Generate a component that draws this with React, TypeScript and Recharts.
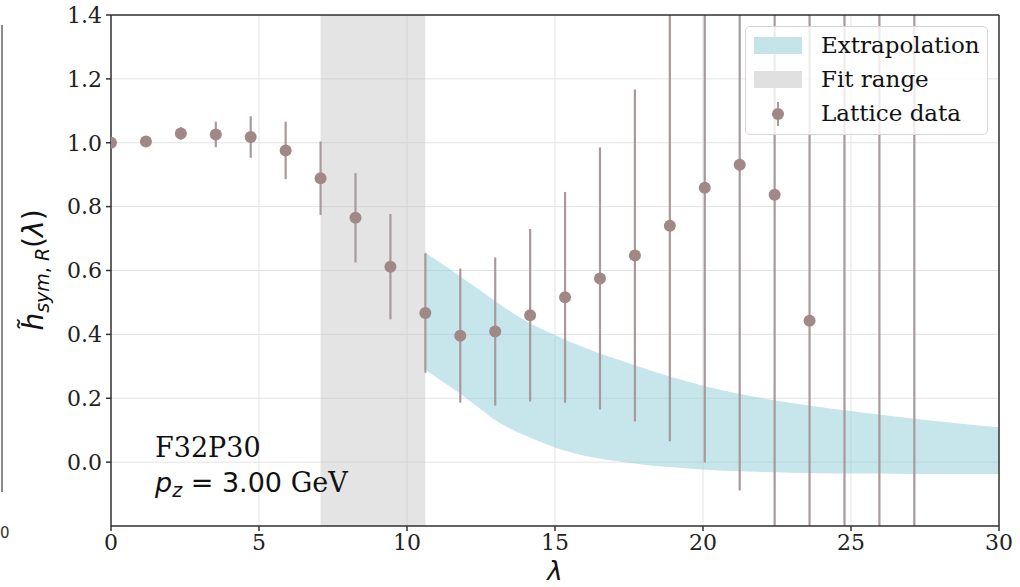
import React from "react";
import {
  ComposedChart,
  Area,
  Scatter,
  ErrorBar,
  XAxis,
  YAxis,
  CartesianGrid,
  ReferenceArea,
  ReferenceLine,
} from "recharts";

// Lattice data
const lambdaVals = [0, 1.18, 2.36, 3.54, 4.72, 5.9, 7.08, 8.26, 9.44, 10.62, 11.8, 12.98, 14.16, 15.34, 16.52, 17.7, 18.88, 20.06, 21.24, 22.42, 23.6, 24.78, 25.96, 27.14];
const latticeMean = [1.0, 1.004, 1.029, 1.026, 1.018, 0.976, 0.889, 0.765, 0.612, 0.467, 0.396, 0.409, 0.46, 0.516, 0.575, 0.647, 0.74, 0.859, 0.931, 0.837, 0.443, 1.6, -0.45, 1.7];
const latticeErr = [0.002, 0.008, 0.02, 0.04, 0.065, 0.09, 0.115, 0.14, 0.165, 0.187, 0.21, 0.232, 0.27, 0.33, 0.41, 0.52, 0.675, 0.86, 1.02, 1.3, 1.7, 2.2, 2.0, 2.5];

// Extrapolation band
const bandX = [10.62, 11, 11.8, 12.5, 13, 14, 15, 16, 17, 18, 19, 20, 21, 22, 23, 24, 25, 26, 27, 28, 29, 30];
const bandUpper = [0.656, 0.632, 0.581, 0.536, 0.503, 0.443, 0.398, 0.358, 0.325, 0.294, 0.265, 0.239, 0.218, 0.2, 0.185, 0.172, 0.16, 0.148, 0.137, 0.127, 0.118, 0.109];
const bandLower = [0.29, 0.265, 0.214, 0.165, 0.13, 0.083, 0.046, 0.02, 0.004, -0.008, -0.016, -0.023, -0.028, -0.031, -0.033, -0.035, -0.036, -0.036, -0.037, -0.037, -0.037, -0.037];

// Fit range
const fitRange = [7.08, 10.62];

const xTicks = [0, 5, 10, 15, 20, 25, 30];
const yTicks = [0, 0.2, 0.4, 0.6, 0.8, 1.0, 1.2, 1.4];

const latticeData = lambdaVals.map((x, i) => ({ x, y: latticeMean[i], err: latticeErr[i] }));
const bandData = bandX.map((x, i) => ({ x, lo: bandLower[i], hi: bandUpper[i] }));

const SERIF = "'DejaVu Serif', serif";
const SANS = "'DejaVu Sans', sans-serif";
const DOT = "#a08886";
const BAR = "#a8999a";

const W = 1020;
const H = 587;
const MARGIN = { top: 15, right: 21, bottom: 31, left: 51 };
const Y_AXIS_W = 60;
const X_AXIS_H = 30;
const plotLeft = MARGIN.left + Y_AXIS_W;
const plotTop = MARGIN.top;
const plotW = W - plotLeft - MARGIN.right;
const plotH = H - MARGIN.top - MARGIN.bottom - X_AXIS_H;

export default function App() {
  return (
    <div style={{ position: "absolute", left: 0, top: 0, width: W, height: H, background: "#fff" }}>
      <style>{`.recharts-errorBars, .recharts-errorBar, .recharts-scatter-symbol { clip-path: url(#plotClip); }`}</style>
      <svg width={0} height={0} style={{ position: "absolute" }}>
        <defs>
          <clipPath id="plotClip" clipPathUnits="userSpaceOnUse">
            <rect x={plotLeft} y={plotTop} width={plotW} height={plotH} />
          </clipPath>
        </defs>
      </svg>
      <ComposedChart width={W} height={H} data={bandData} margin={MARGIN}>
        <CartesianGrid stroke="#e3e3e3" strokeWidth={1} />
        <ReferenceArea x1={fitRange[0]} x2={fitRange[1]} y1={-0.2} y2={1.4} fill="#c4c4c4" fillOpacity={0.45} stroke="none" ifOverflow="hidden" />
        <XAxis
          dataKey="x"
          type="number"
          domain={[0, 30]}
          ticks={xTicks}
          allowDataOverflow
          height={X_AXIS_H}
          tickSize={5}
          tickMargin={3}
          stroke="#333"
          strokeWidth={1.5}
          tick={{ fontFamily: SERIF, fontSize: 22, fill: "#222" }}
          tickFormatter={(v: number) => String(v)}
        />
        <YAxis
          type="number"
          domain={[-0.2, 1.4]}
          ticks={yTicks}
          allowDataOverflow
          width={Y_AXIS_W}
          tickSize={5}
          tickMargin={4}
          stroke="#333"
          strokeWidth={1.5}
          tick={{ fontFamily: SERIF, fontSize: 22, fill: "#222" }}
          tickFormatter={(v: number) => v.toFixed(1)}
        />
        <Area
          dataKey={(d: any) => [d.lo, d.hi]}
          type="monotone"
          fill="#8dcdd9"
          fillOpacity={0.5}
          stroke="none"
          dot={false}
          activeDot={false}
          isAnimationActive={false}
        />
        <Scatter
          data={latticeData}
          dataKey="y"
          fill={DOT}
          isAnimationActive={false}
          shape={(p: any) => <circle className="recharts-scatter-symbol" cx={p.cx} cy={p.cy} r={6} fill={DOT} />}
        >
          <ErrorBar dataKey="err" direction="y" width={0} stroke={BAR} strokeWidth={2.2} isAnimationActive={false} />
        </Scatter>
        <ReferenceLine y={1.4} stroke="#333" strokeWidth={1.5} />
        <ReferenceLine x={30} stroke="#333" strokeWidth={1.5} />
      </ComposedChart>

      {/* overlay texts */}
      <svg width={W} height={H} style={{ position: "absolute", left: 0, top: 0, pointerEvents: "none" }}>
        <text transform="translate(43,270) rotate(-90)" textAnchor="middle" fontFamily={SANS} fontSize={28} fill="#111">
          <tspan fontStyle="italic">h̃</tspan>
          <tspan fontStyle="italic" fontSize={19} dy={6}>sym</tspan>
          <tspan fontSize={19}>, </tspan>
          <tspan fontStyle="italic" fontSize={19}>R</tspan>
          <tspan dy={-6}>(</tspan>
          <tspan fontStyle="italic">λ</tspan>
          <tspan>)</tspan>
        </text>
        <text x={555} y={580} textAnchor="middle" fontFamily={SANS} fontStyle="italic" fontSize={26} fill="#111">λ</text>
        <text x={155} y={457} fontFamily={SERIF} fontSize={27} fill="#111">F32P30</text>
        <text x={155} y={492} fontFamily={SANS} fontSize={27} fill="#111">
          <tspan fontStyle="italic">p</tspan>
          <tspan fontStyle="italic" fontSize={19} dy={5}>z</tspan>
          <tspan dy={-5}> = 3.00 </tspan>
          <tspan fontFamily={SERIF}>GeV</tspan>
        </text>
      </svg>

      {/* legend */}
      <div
        style={{
          position: "absolute",
          left: 745,
          top: 26,
          width: 243,
          height: 109,
          boxSizing: "border-box",
          border: "1px solid #d6d6d6",
          borderRadius: 5,
          background: "rgba(255,255,255,0.8)",
          fontFamily: SERIF,
          fontSize: 23,
          color: "#111",
        }}
      >
        <div style={{ position: "absolute", left: 8, top: 10, width: 48, height: 17, background: "#c4e4ea" }} />
        <div style={{ position: "absolute", left: 75, top: 3, lineHeight: "30px" }}>Extrapolation</div>
        <div style={{ position: "absolute", left: 8, top: 44, width: 48, height: 17, background: "#e0e0e0" }} />
        <div style={{ position: "absolute", left: 75, top: 37, lineHeight: "30px" }}>Fit range</div>
        <div style={{ position: "absolute", left: 31, top: 75, width: 2, height: 24, background: BAR }} />
        <div style={{ position: "absolute", left: 26, top: 81, width: 12, height: 12, borderRadius: 6, background: DOT }} />
        <div style={{ position: "absolute", left: 75, top: 71, lineHeight: "30px" }}>Lattice data</div>
      </div>

      {/* left edge remnant */}
      <div style={{ position: "absolute", left: 1, top: 25, width: 1.5, height: 467, background: "#8a8a8a" }} />
      <div style={{ position: "absolute", left: 0, top: 524, fontFamily: SANS, fontSize: 15, color: "#333" }}>0</div>
    </div>
  );
}
